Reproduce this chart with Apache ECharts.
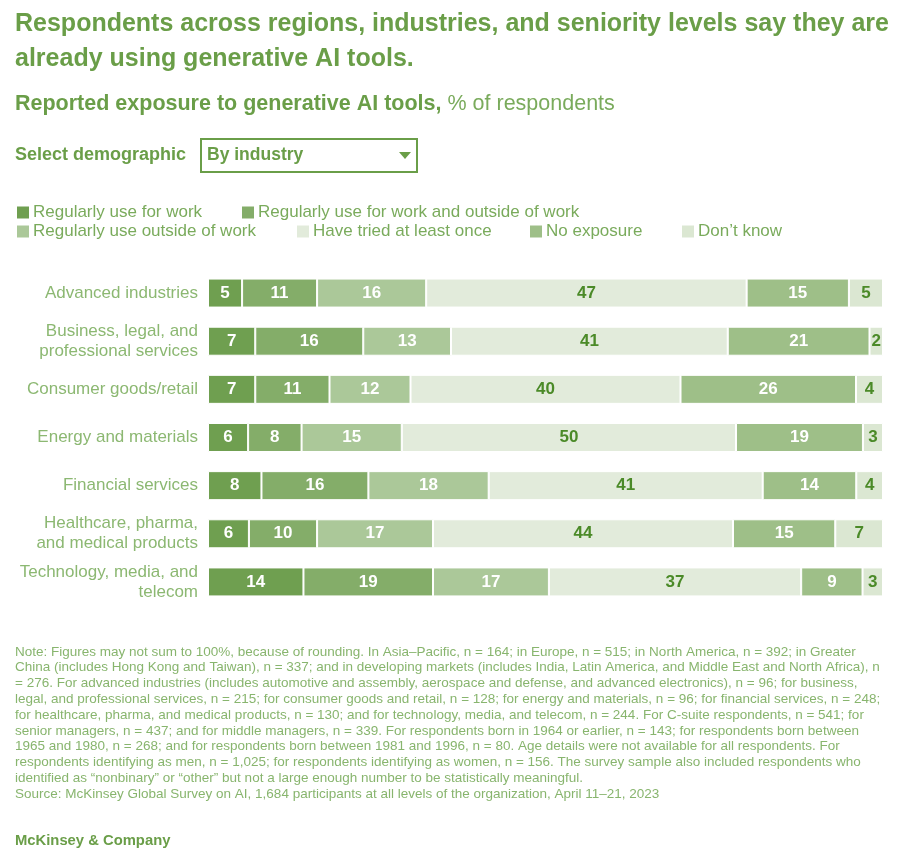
<!DOCTYPE html>
<html>
<head>
<meta charset="utf-8">
<script src="https://cdn.jsdelivr.net/npm/echarts@6/dist/echarts.min.js"></script>
<style>html,body{margin:0;padding:0;background:#fff}#c{width:904px;height:860px}</style>
</head>
<body>
<div id="c"></div>
<script>
const categories = [
  'Advanced industries',
  'Business, legal, and\nprofessional services',
  'Consumer goods/retail',
  'Energy and materials',
  'Financial services',
  'Healthcare, pharma,\nand medical products',
  'Technology, media, and\ntelecom'
];
const seriesNames = ['Regularly use for work','Regularly use for work and outside of work','Regularly use outside of work','Have tried at least once','No exposure','Don\u2019t know'];
const regularWork    = [5, 7, 7, 6, 8, 6, 14];
const workAndOutside = [11, 16, 11, 8, 16, 10, 19];
const outsideWork    = [16, 13, 12, 15, 18, 17, 17];
const triedOnce      = [47, 41, 40, 50, 41, 44, 37];
const noExposure     = [15, 21, 26, 19, 14, 15, 9];
const dontKnow       = [5, 2, 4, 3, 4, 7, 3];
const noteLines = [
  'Note: Figures may not sum to 100%, because of rounding. In Asia\u2013Pacific, n = 164; in Europe, n = 515; in North America, n = 392; in Greater',
  'China (includes Hong Kong and Taiwan), n = 337; and in developing markets (includes India, Latin America, and Middle East and North Africa), n',
  '= 276. For advanced industries (includes automotive and assembly, aerospace and defense, and advanced electronics), n = 96; for business,',
  'legal, and professional services, n = 215; for consumer goods and retail, n = 128; for energy and materials, n = 96; for financial services, n = 248;',
  'for healthcare, pharma, and medical products, n = 130; and for technology, media, and telecom, n = 244. For C-suite respondents, n = 541; for',
  'senior managers, n = 437; and for middle managers, n = 339. For respondents born in 1964 or earlier, n = 143; for respondents born between',
  '1965 and 1980, n = 268; and for respondents born between 1981 and 1996, n = 80. Age details were not available for all respondents. For',
  'respondents identifying as men, n = 1,025; for respondents identifying as women, n = 156. The survey sample also included respondents who',
  'identified as \u201cnonbinary\u201d or \u201cother\u201d but not a large enough number to be statistically meaningful.',
  'Source: McKinsey Global Survey on AI, 1,684 participants at all levels of the organization, April 11\u201321, 2023'
];

const raw = [regularWork, workAndOutside, outsideWork, triedOnce, noExposure, dontKnow];
const colors = ['#6f9f50', '#84ad69', '#abc899', '#e2ebdb', '#9ebf88', '#dbe7d2'];
const labelColors = ['#fff', '#fff', '#fff', '#4b8a28', '#fff', '#4b8a28'];
const totals = categories.map((_, i) => raw.reduce((s, arr) => s + arr[i], 0));

const FONT = '"Liberation Sans", Arial, sans-serif';
const green = '#6a9e48';
const legendPos = [[15, 204], [240, 204], [15, 223], [295, 223], [528, 223], [680, 223]];

const chart = echarts.init(document.getElementById('c'), null, {renderer: 'canvas'});
chart.setOption({
  backgroundColor: '#fff',
  animation: false,
  textStyle: {fontFamily: FONT},
  legend: seriesNames.map((n, i) => ({
    data: [n], left: legendPos[i][0], top: legendPos[i][1], icon: 'rect',
    itemWidth: 14, itemHeight: 14, itemGap: 4, padding: 0, selectedMode: false,
    textStyle: {color: '#7aab5c', fontSize: 17, fontFamily: FONT, padding: [0, 0, 0, -2]}
  })),
  grid: {left: 208, right: 21, top: 269, height: 337},
  xAxis: {type: 'value', min: 0, max: 100, show: false},
  yAxis: {
    type: 'category', data: categories, inverse: true,
    axisLine: {show: false}, axisTick: {show: false},
    axisLabel: {color: '#8cb872', fontSize: 17, lineHeight: 20, margin: 10, fontFamily: FONT, align: 'right'}
  },
  series: raw.map((arr, s) => ({
    name: seriesNames[s], type: 'bar', stack: 'total', barWidth: 29,
    itemStyle: {color: colors[s], borderColor: '#fff', borderWidth: 1},
    label: {
      show: true, position: 'inside', color: labelColors[s], fontSize: 17, fontWeight: 'bold', fontFamily: FONT,
      formatter: p => String(arr[p.dataIndex])
    },
    data: arr.map((v, i) => v / totals[i] * 100)
  })),
  graphic: [
    {type: 'text', left: 15, top: 7, style: {text: 'Respondents across regions, industries, and seniority levels say they are\nalready using generative AI tools.', fill: green, fontSize: 25, fontWeight: 'bold', fontFamily: FONT, lineHeight: 35}},
    {type: 'text', left: 15, top: 93, style: {rich: {a: {fontSize: 21.5, fontWeight: 'bold', fill: green, fontFamily: FONT}, b: {fontSize: 21.5, fill: '#7aab5c', fontFamily: FONT}}, text: '{a|Reported exposure to generative AI tools, }{b|% of respondents}'}},
    {type: 'text', left: 15, top: 146, style: {text: 'Select demographic', fill: green, fontSize: 18, fontWeight: 'bold', fontFamily: FONT}},
    {type: 'rect', shape: {x: 201, y: 139, width: 216, height: 33}, style: {fill: '#fff', stroke: green, lineWidth: 2}},
    {type: 'text', left: 207, top: 146, style: {text: 'By industry', fill: green, fontSize: 17.5, fontWeight: 'bold', fontFamily: FONT}},
    {type: 'polygon', shape: {points: [[399, 152], [411, 152], [405, 159]]}, style: {fill: green}},
    {type: 'text', left: 15, top: 644, style: {text: noteLines.join('\n'), fill: '#88b56e', fontSize: 13.5, lineHeight: 15.8, fontFamily: FONT}},
    {type: 'text', left: 15, top: 833, style: {text: 'McKinsey & Company', fill: green, fontSize: 14.8, fontWeight: 'bold', fontFamily: FONT}}
  ]
});
</script>
</body>
</html>
